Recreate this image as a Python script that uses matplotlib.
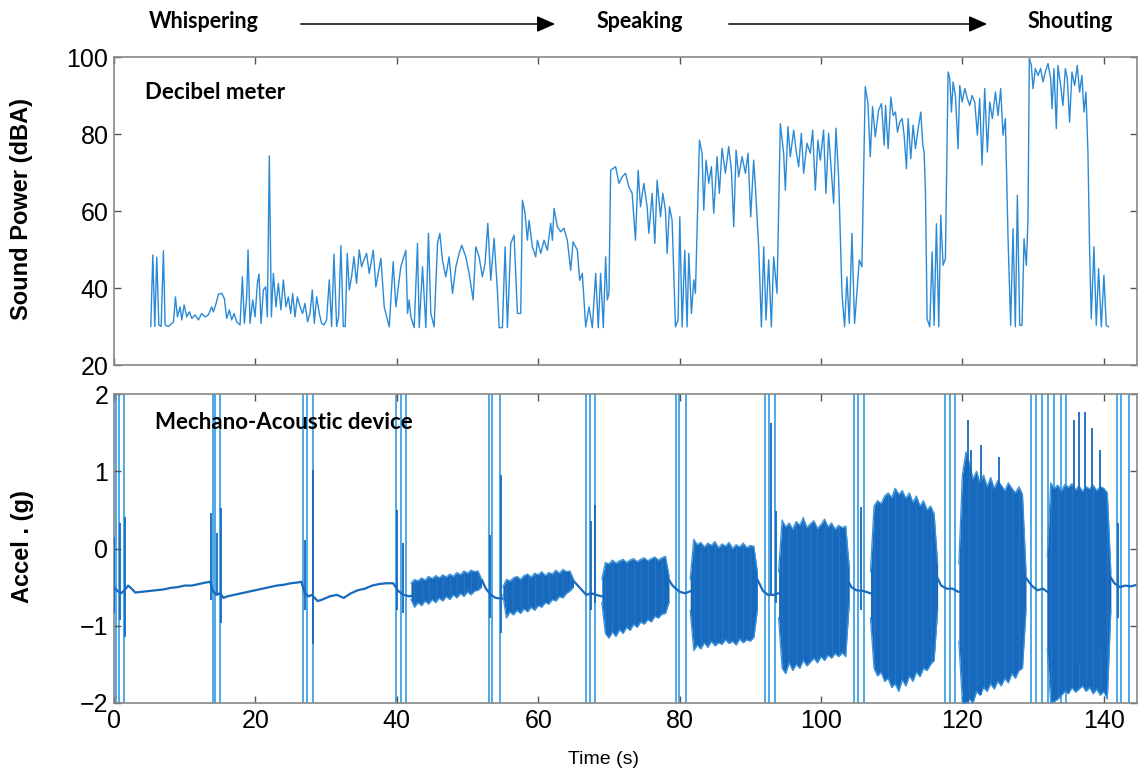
import matplotlib
matplotlib.use("Agg")
import matplotlib.pyplot as plt
import numpy as np

# ---------------- Decibel meter (top panel) ----------------
db_time = [5.2,5.49,5.77,6.05,6.34,6.67,6.99,7.23,7.7,8.41,8.69,8.97,9.35,9.59,9.92,10.29,10.67,11.0,11.47,11.94,
           12.41,12.88,13.35,13.82,14.06,14.44,14.77,15.24,15.61,15.94,16.32,16.65,16.98,17.36,17.83,18.16,18.44,18.77,18.96,19.24,
           19.62,19.95,20.28,20.51,20.8,21.13,21.46,21.69,21.97,22.26,22.54,22.91,23.24,23.62,23.95,24.33,24.66,24.99,25.27,25.6,
           25.93,26.31,26.68,27.01,27.39,27.72,28.05,28.33,28.66,29.04,29.37,29.7,30.07,30.45,30.78,31.11,31.49,31.77,32.1,32.43,
           32.71,32.99,33.28,33.61,33.94,34.31,34.69,35.02,35.35,35.73,
           36.1,36.67,37.04,37.75,38.22,38.93,39.49,39.87,40.57,41.28,41.52,41.75,41.99,42.46,42.93,43.17,43.64,44.11,44.48,44.81,
           45.28,45.76,46.09,46.46,46.93,47.4,47.88,48.35,48.82,49.19,49.76,50.23,50.8,51.17,51.64,52.11,52.49,52.87,53.29,53.76,
           54.23,54.47,54.94,55.32,55.65,56.12,56.59,57.06,57.53,57.77,58.14,58.47,58.71,59.18,59.65,59.89,60.36,60.83,61.3,61.77,
           62.01,62.24,62.71,63.18,63.65,64.12,64.6,64.93,65.54,65.87,66.24,66.72,67.19,67.66,68.13,68.5,68.83,69.21,69.54,69.78,
           70.01,70.25,70.95,71.43,71.9,
           72.35,72.82,73.29,73.76,74.14,74.47,74.94,75.41,75.65,76.12,76.5,76.82,77.3,77.63,78.0,78.24,78.57,78.94,79.42,79.79,
           80.03,80.36,80.73,81.06,81.3,81.68,82.01,82.24,82.81,83.18,83.42,83.75,84.13,84.5,84.83,85.3,85.63,86.01,86.48,86.95,
           87.33,87.66,87.99,88.36,88.84,89.31,89.68,90.06,90.48,90.72,91.19,91.57,91.9,92.23,92.6,92.98,93.31,93.78,94.25,94.72,
           94.96,95.33,95.66,96.14,96.47,96.84,97.22,97.55,98.02,98.49,98.82,99.2,99.57,99.9,100.37,100.7,101.08,101.46,101.79,102.12,
           102.49,102.97,103.34,103.67,104.0,104.38,104.75,105.08,105.41,105.79,106.26,106.64,106.97,107.3,107.68,108.15,
           108.56,108.94,109.13,109.5,109.88,110.21,110.54,110.82,111.15,111.48,111.76,112.09,112.33,112.7,113.03,113.36,113.74,114.12,114.4,114.59,
           114.78,115.01,115.39,115.72,116.0,116.33,116.66,116.94,117.27,117.6,117.98,118.22,118.45,118.69,119.02,119.39,119.63,119.96,120.34,120.71,
           121.04,121.37,121.75,122.12,122.45,122.78,123.16,123.54,123.87,124.24,124.67,125.05,125.42,125.75,126.08,126.46,126.83,127.16,127.49,127.78,
           128.11,128.44,128.72,129.05,129.28,129.47,129.76,129.99,130.32,130.7,131.07,131.4,131.73,132.11,132.49,132.68,132.96,133.29,133.52,133.9,
           134.23,134.56,134.84,135.17,135.5,135.88,136.25,136.58,136.91,137.2,137.48,137.76,138.0,138.23,138.61,138.94,139.27,139.65,140.02,140.35,
           140.68]
db_value = [30,48.6,30,48,30.4,30,49.7,30.4,30,31.2,37.7,32.5,35.1,31.7,35.6,32.5,33.8,32.1,33,31.7,
            33.4,32.5,33,35.1,33.8,36,38.4,38.6,37.3,32.1,34.3,31.7,33.4,31.2,30.4,42.9,30.8,37.7,49.9,30.8,
            36.9,32.5,41.2,43.6,30.8,39.5,40.3,32.5,74.3,32.5,43.8,35.1,41.2,34.3,42.1,35.1,37.7,33.4,38.6,32.5,
            37.7,35.1,33.4,36,31.2,33.4,39.5,30.8,37.7,33.4,30.8,30.4,31.7,42.1,30,48.8,30,32.5,51,30,
            30,49,39.5,43,48.1,41.2,49.9,45.5,47.3,49,
            43.8,49.8,40.3,47.7,35.1,29.9,46.8,35.1,45.5,49.8,33.4,36.9,32.5,29.7,51.6,29.7,45.5,29.7,54.2,33.4,
            29.9,51.6,54.2,47.2,42.9,48.1,38.6,45.5,49.0,51.1,48.1,43.8,36.9,50.7,48.1,42.9,46.4,56.8,42.0,52.9,
            39.4,29.7,29.7,50.7,29.7,51.6,53.7,33.4,33.4,62.8,59.4,52.4,57.6,50.7,48.1,52.4,49.0,52.4,49.8,56.8,
            52.4,60.7,55.9,54.6,55.5,52.4,44.6,52.0,49.8,42.0,43.8,29.9,35.1,29.7,43.8,29.7,43.8,29.7,48.1,36.9,
            38.6,70.6,71.5,67.2,68.9,
            69.8,66.3,64.6,52.4,70.6,61.1,67.2,61.1,54.2,64.6,51.6,68.0,58.5,64.6,60.2,49.0,61.1,57.6,29.9,31.7,
            58.5,29.9,49.8,29.9,49.0,33.4,42.1,38.6,78.4,75.0,60.2,73.2,67.2,71.5,59.4,74.1,64.6,76.3,69.8,76.7,
            70.6,55.9,75.8,68.9,74.1,69.8,75.0,58.5,73.2,66.3,50.7,29.9,50.7,31.7,47.3,29.9,48.1,38.6,82.7,75.0,
            65.4,81.9,74.1,81.0,75.8,71.5,80.2,69.8,77.6,75.0,81.0,65.4,78.4,73.2,81.0,64.6,80.2,70.6,62.0,81.5,
            68.9,38.6,29.9,42.9,30.8,54.2,30.8,38.6,47.3,45.5,92.3,88.0,74.1,87.1,79.3,86.2,
            87.9,77.1,87.4,76.2,89.6,84.8,85.7,80.5,83.1,84.0,79.7,71.0,84.0,73.6,82.3,76.2,81.4,85.7,77.1,75.3,
            64.9,32.0,29.9,49.4,30.3,56.7,29.9,58.9,45.9,47.6,96.1,94.4,85.7,93.5,90.0,76.2,92.6,88.3,91.8,89.2,
            87.4,90.0,88.3,79.7,89.2,71.9,91.8,75.3,88.3,84.0,90.9,84.8,91.8,79.7,84.0,52.8,30.3,55.4,29.9,64.1,
            30.3,30.3,52.8,45.9,58.0,99.7,97.8,91.8,97.0,95.2,97.0,93.5,96.1,98.3,94.4,86.6,97.0,81.4,97.8,92.6,
            87.4,97.0,94.4,83.1,96.1,92.6,97.8,90.9,95.2,85.7,90.9,75.3,49.4,32.0,50.7,30.3,45.0,29.9,43.3,30.3,
            29.9]

# ---------------- Mechano-acoustic device (bottom panel) ----------------
acc_base_time = [0,0.5,1.0,1.5,2.0,2.5,3.0,4,5,6,7,8,9,10,11,12,13,13.6,14.0,14.5,15.0,15.5,16,17,18,19,20,21,22,23,
                 24,25,26,26.5,27.0,27.5,28.0,28.8,29.5,30.5,31.5,32.5,33.5,34.5,35.5,36.5,37.5,38.5,39.5,40.2,41.0,41.8,43,45,47,49,
                 51,52.0,52.6,53.3,54.0,55.0,57,59,61,63,65.0,66.0,66.8,67.5,68.2,69.0,71,73,75,77,78.3,79.0,80.0,80.8,
                 81.6,83,86,89,91.0,91.8,92.5,93.3,94.0,96,99,102,103.6,104.3,105.0,106.0,107.0,110,113,116.3,117.0,117.8,118.6,119.4,
                 122,125,128,129.0,129.8,130.6,131.4,132.0,135,138,140.8,141.5,142.3,143.0,143.8,144.7]
acc_base_value = [-0.50,-0.55,-0.58,-0.54,-0.48,-0.52,-0.57,-0.56,-0.55,-0.54,-0.53,-0.51,-0.50,-0.48,-0.48,-0.46,-0.44,-0.43,-0.55,-0.60,
                  -0.58,-0.64,-0.62,-0.60,-0.58,-0.56,-0.54,-0.52,-0.50,-0.48,-0.47,-0.45,-0.44,-0.43,-0.58,-0.62,-0.60,-0.68,-0.66,-0.62,
                  -0.60,-0.64,-0.58,-0.54,-0.52,-0.48,-0.46,-0.45,-0.45,-0.55,-0.60,-0.62,-0.58,-0.54,-0.50,-0.47,-0.42,-0.40,-0.52,-0.60,
                  -0.64,-0.65,-0.60,-0.56,-0.52,-0.48,-0.42,-0.52,-0.60,-0.58,-0.60,-0.62,-0.60,-0.58,-0.56,-0.52,-0.38,-0.48,-0.56,-0.58,
                  -0.55,-0.52,-0.52,-0.50,-0.40,-0.55,-0.60,-0.60,-0.58,-0.56,-0.54,-0.52,-0.38,-0.50,-0.54,-0.55,-0.58,-0.56,-0.54,-0.35,
                  -0.48,-0.52,-0.52,-0.56,-0.55,-0.55,-0.52,-0.38,-0.48,-0.54,-0.52,-0.56,-0.55,-0.55,-0.35,-0.45,-0.50,-0.48,-0.49,-0.47]

# speech bursts: time, upper envelope, lower envelope
burst_a_time = [42.0,42.5,43.0,43.5,44.0,44.5,45.0,45.5,46.0,46.5,47.0,47.5,48.0,48.5,49.0,49.5,50.0,50.5,51.0,51.5,52.0]
burst_a_top = [-0.45,-0.40,-0.42,-0.38,-0.41,-0.36,-0.39,-0.35,-0.38,-0.34,-0.37,-0.33,-0.36,-0.31,-0.34,-0.29,-0.32,-0.28,-0.30,-0.29,-0.40]
burst_a_bot = [-0.66,-0.76,-0.70,-0.74,-0.68,-0.72,-0.66,-0.70,-0.64,-0.68,-0.62,-0.66,-0.60,-0.64,-0.58,-0.62,-0.56,-0.60,-0.55,-0.54,-0.50]

burst_b_time = [55.0,55.5,56.0,56.5,57.0,57.5,58.0,58.5,59.0,59.5,60.0,60.5,61.0,61.5,62.0,62.5,63.0,63.5,64.0,64.5,65.0]
burst_b_top = [-0.50,-0.40,-0.42,-0.38,-0.36,-0.40,-0.35,-0.33,-0.37,-0.32,-0.34,-0.30,-0.35,-0.31,-0.33,-0.28,-0.32,-0.27,-0.30,-0.29,-0.40]
burst_b_bot = [-0.60,-0.90,-0.82,-0.86,-0.80,-0.84,-0.78,-0.82,-0.76,-0.80,-0.74,-0.76,-0.70,-0.72,-0.66,-0.68,-0.62,-0.64,-0.58,-0.55,-0.50]

burst_c_time = [69.0,69.5,70.0,70.5,71.0,71.5,72.0,72.5,73.0,73.5,74.0,74.5,75.0,75.5,76.0,76.5,77.0,77.5,78.0,78.5]
burst_c_top = [-0.40,-0.18,-0.20,-0.15,-0.19,-0.16,-0.14,-0.18,-0.15,-0.13,-0.17,-0.14,-0.12,-0.16,-0.13,-0.11,-0.15,-0.12,-0.10,-0.35]
burst_c_bot = [-0.70,-1.10,-1.16,-1.08,-1.14,-1.05,-1.10,-1.02,-1.06,-0.98,-1.02,-0.95,-0.98,-0.92,-0.95,-0.88,-0.90,-0.85,-0.84,-0.70]

burst_d_time = [81.5,82.0,82.5,83.0,83.5,84.0,84.5,85.0,85.5,86.0,86.5,87.0,87.5,88.0,88.5,89.0,89.5,90.0,90.5,91.0]
burst_d_top = [-0.40,0.12,0.05,0.08,0.02,0.07,0.04,0.09,0.01,0.06,0.03,0.08,0.00,0.05,0.02,0.07,0.01,0.04,0.03,-0.30]
burst_d_bot = [-0.80,-1.32,-1.25,-1.30,-1.22,-1.28,-1.20,-1.26,-1.22,-1.24,-1.18,-1.23,-1.20,-1.25,-1.17,-1.22,-1.18,-1.20,-1.15,-0.80]

burst_e_time = [94.0,94.5,95.0,95.5,96.0,96.5,97.0,97.5,98.0,98.5,99.0,99.5,100.0,100.5,101.0,101.5,102.0,102.5,103.0,103.5,104.0]
burst_e_top = [-0.30,0.37,0.28,0.33,0.25,0.35,0.30,0.40,0.27,0.32,0.36,0.26,0.31,0.38,0.28,0.33,0.25,0.30,0.27,0.29,-0.25]
burst_e_bot = [-0.90,-1.55,-1.62,-1.48,-1.58,-1.50,-1.55,-1.45,-1.52,-1.47,-1.42,-1.48,-1.40,-1.45,-1.38,-1.42,-1.36,-1.40,-1.35,-1.40,-0.70]

burst_f_time = [107.0,107.5,108.0,108.5,109.0,109.5,110.0,110.5,111.0,111.5,112.0,112.5,113.0,113.5,114.0,114.5,115.0,115.5,116.0,116.5]
burst_f_top = [-0.30,0.55,0.62,0.58,0.68,0.72,0.66,0.78,0.70,0.75,0.65,0.72,0.60,0.68,0.55,0.62,0.50,0.55,0.45,-0.20]
burst_f_bot = [-0.90,-1.55,-1.65,-1.60,-1.72,-1.68,-1.80,-1.75,-1.85,-1.70,-1.78,-1.65,-1.72,-1.60,-1.66,-1.55,-1.58,-1.50,-1.45,-0.80]

burst_g_time = [119.5,120.0,120.5,121.0,121.5,122.0,122.5,123.0,123.5,124.0,124.5,125.0,125.5,126.0,126.5,127.0,127.5,128.0,128.5,129.0]
burst_g_top = [-0.20,0.95,1.25,1.10,0.90,1.00,0.85,0.95,0.80,0.92,0.78,0.88,0.82,0.75,0.85,0.78,0.72,0.80,0.70,-0.30]
burst_g_bot = [-1.20,-2.00,-2.00,-1.95,-2.00,-1.85,-1.90,-1.80,-1.85,-1.75,-1.82,-1.72,-1.78,-1.68,-1.74,-1.62,-1.68,-1.58,-1.55,-0.80]

burst_h_time = [132.0,132.5,133.0,133.5,134.0,134.5,135.0,135.5,136.0,136.5,137.0,137.5,138.0,138.5,139.0,139.5,140.0,140.5,141.0]
burst_h_top = [-0.10,0.85,0.78,0.82,0.75,0.83,0.79,0.84,0.76,0.81,0.74,0.80,0.77,0.82,0.75,0.80,0.78,0.72,-0.30]
burst_h_bot = [-1.30,-2.00,-1.98,-1.95,-1.90,-1.85,-1.88,-1.80,-1.86,-1.82,-1.78,-1.85,-1.80,-1.88,-1.82,-1.90,-1.85,-1.95,-0.80]

# clipped full-scale spikes (times)
spike_full_time = [0.3,0.7,1.35,13.95,14.35,15.0,26.8,27.25,28.1,39.9,40.6,41.3,53.0,53.5,54.6,66.7,67.3,68.0,
                   79.5,79.9,80.9,92.1,92.7,93.5,104.7,105.3,106.1,117.5,118.2,119.0,
                   129.7,130.4,131.3,132.1,133.0,133.9,134.6,141.9,142.5,143.5]
# partial spikes: time, top, bottom
spike_part_time = [0.05,0.9,1.5,13.7,14.6,15.1,27.0,28.2,40.0,40.9,53.2,54.8,67.5,68.1,92.9,93.6,105.6,142.0,
                   120.75,121.2,122.6,125.2,135.8,136.5,137.4,138.4,139.4]
spike_part_top = [0.15,0.33,0.41,0.46,0.20,0.52,0.11,1.02,0.50,0.07,0.17,0.95,0.35,0.56,1.62,0.48,0.54,0.33,
                  1.66,1.27,1.34,1.19,1.66,1.77,1.77,1.56,1.27]
spike_part_bot = [-0.84,-0.93,-1.14,-0.67,-0.60,-0.97,-0.80,-1.23,-0.80,-0.84,-0.90,-1.10,-0.80,-0.71,-0.60,-0.70,-0.80,-0.90,
                  -2.0,-1.9,-1.9,-1.7,-1.6,-1.5,-1.5,-1.4,-1.3]

x_ticks = [0, 20, 40, 60, 80, 100, 120, 140]
db_ticks = [20, 40, 60, 80, 100]
acc_ticks = [-2, -1, 0, 1, 2]

# ---------------- figure ----------------
W, H = 1138, 773
fig = plt.figure(figsize=(W / 100, H / 100), dpi=100)
fig.patch.set_facecolor("white")

def px_axes(left, top, right, bottom):
    return fig.add_axes([left / W, 1 - bottom / H, (right - left) / W, (bottom - top) / H])

ax1 = px_axes(114, 57, 1137, 365)
ax2 = px_axes(114, 394, 1137, 703)

line_col = "#2b8ad6"
dark_col = "#1769bd"
spike_col = "#4ea8e6"
tick_font = ["Liberation Sans", "DejaVu Sans"]
label_font = ["Liberation Sans", "DejaVu Sans"]
bold_font = ["Lato", "DejaVu Sans"]
xmax = 144.7

for ax in (ax1, ax2):
    ax.set_xlim(0, xmax)
    ax.set_xticks(x_ticks)
    ax.tick_params(direction="in", length=5, width=1, color="#555555",
                   top=True, right=True, labelsize=18, pad=4)
    for s in ax.spines.values():
        s.set_color("#888888")
        s.set_linewidth(1.2)

# top panel
ax1.plot(db_time, db_value, color=line_col, lw=1.0)
ax1.set_ylim(20, 100)
ax1.set_yticks(db_ticks)
ax1.tick_params(labelbottom=False)
ax1.text(0.030, 0.885, "Decibel meter", transform=ax1.transAxes, fontsize=16,
         fontweight="bold", family=bold_font, va="center", ha="left")

# bottom panel
ax2.set_ylim(-2, 2)
ax2.set_yticks(acc_ticks)
ax2.vlines(spike_full_time, -2, 2, color=spike_col, lw=1.4, zorder=1)
ax2.plot(acc_base_time, acc_base_value, color=dark_col, lw=1.6, zorder=2)
bursts = [(burst_a_time, burst_a_top, burst_a_bot), (burst_b_time, burst_b_top, burst_b_bot),
          (burst_c_time, burst_c_top, burst_c_bot), (burst_d_time, burst_d_top, burst_d_bot),
          (burst_e_time, burst_e_top, burst_e_bot), (burst_f_time, burst_f_top, burst_f_bot),
          (burst_g_time, burst_g_top, burst_g_bot), (burst_h_time, burst_h_top, burst_h_bot)]
for bt, btop, bbot in bursts:
    ax2.fill_between(bt, bbot, btop, color=dark_col, lw=0, zorder=3)
    ax2.plot(bt, btop, color="#3b93da", lw=0.9, zorder=3)
    ax2.plot(bt, bbot, color="#3b93da", lw=0.9, zorder=3)
    ax2.vlines(bt[1:-1:2], bbot[1:-1:2], btop[1:-1:2], color="#5aaee8", lw=0.4, alpha=0.35, zorder=3)
ax2.vlines(spike_part_time, spike_part_bot, spike_part_top, color=dark_col, lw=1.3, zorder=4)
ax2.text(0.040, 0.909, "Mechano-Acoustic device", transform=ax2.transAxes, fontsize=16,
         fontweight="bold", family=bold_font, va="center", ha="left", zorder=6)

for ax in (ax1, ax2):
    for lab in ax.get_xticklabels() + ax.get_yticklabels():
        lab.set_family(tick_font)

# axis labels
fig.text(22 / W, 1 - 209 / H, "Sound Power (dBA)", rotation=90, fontsize=17, fontweight="bold",
         family=label_font, ha="center", va="center")
fig.text(22 / W, 1 - 547 / H, "Accel . (g)", rotation=90, fontsize=17, fontweight="bold",
         family=label_font, ha="center", va="center")
fig.text(604 / W, 1 - 760 / H, "Time (s)", fontsize=14, family=label_font, ha="center", va="center")

# header: Whispering -> Speaking -> Shouting
hdr_y = 1 - 22 / H
for label, xc in [("Whispering", 204), ("Speaking", 640), ("Shouting", 1070)]:
    fig.text(xc / W, hdr_y, label, fontsize=15.5, fontweight="bold", family=bold_font,
             ha="center", va="center")
for x0, x1 in [(298, 558), (726, 990)]:
    fig.add_artist(matplotlib.patches.FancyArrowPatch(
        (x0 / W, 1 - 24 / H), (x1 / W, 1 - 24 / H), transform=fig.transFigure,
        arrowstyle="-|>,head_length=0.8,head_width=0.35", mutation_scale=14, color="black", lw=1.1))

fig.savefig("out.png", dpi=100, facecolor="white")
